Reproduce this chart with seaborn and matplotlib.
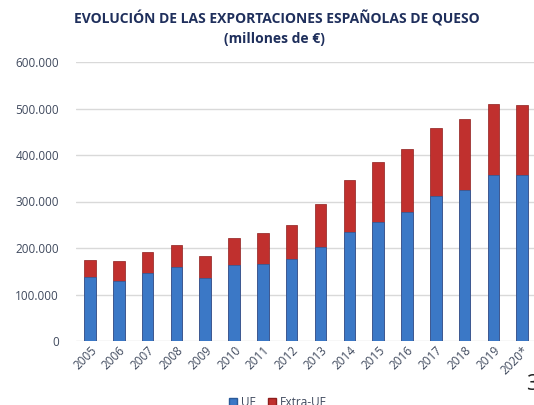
import matplotlib
matplotlib.use("Agg")
import matplotlib.pyplot as plt
import seaborn as sns
import pandas as pd
import numpy as np
from matplotlib.patches import Patch
from matplotlib.ticker import FuncFormatter

years = ["2005", "2006", "2007", "2008", "2009", "2010", "2011", "2012",
         "2013", "2014", "2015", "2016", "2017", "2018", "2019", "2020*"]
ue = [138000, 130000, 146000, 159000, 135500, 163000, 166000, 175500,
      201500, 234500, 256000, 277000, 312000, 325000, 358000, 358000]
extra_ue = [36000, 42000, 45000, 48000, 47500, 58500, 67000, 73500,
            92500, 111000, 129500, 135500, 146000, 151500, 152500, 150000]
totals = [a + b for a, b in zip(ue, extra_ue)]

df = pd.DataFrame({"year": years, "UE": ue, "Total": totals})

sns.set_theme(style="white")
plt.rcParams['font.family'] = ['Open Sans', 'DejaVu Sans']

fig = plt.figure(figsize=(5.34, 4.05), dpi=100)
ax = fig.add_axes([75.6 / 534, (405 - 341) / 405, 461 / 534, (341 - 62) / 405])

blue = "#3b78c6"
red = "#c0302e"
sns.barplot(data=df, x="year", y="Total", color=red, width=0.4, ax=ax,
            saturation=1, edgecolor="#8e1e1c", linewidth=0.5, zorder=2)
sns.barplot(data=df, x="year", y="UE", color=blue, width=0.4, ax=ax,
            saturation=1, edgecolor="#2a5a99", linewidth=0.5, zorder=3)

ax.set_xlim(-0.5, 15.5)
ax.set_ylim(0, 600000)
ax.set_yticks(np.arange(0, 600001, 100000))
ax.yaxis.set_major_formatter(FuncFormatter(lambda v, p: f"{int(v):,}".replace(",", ".")))
ax.grid(axis="y", color="#d9d9d9", linewidth=1, zorder=0)
ax.set_axisbelow(True)
for s in ax.spines.values():
    s.set_visible(False)
ax.set_xlabel("")
ax.set_ylabel("")
label_color = "#404a5e"
ax.tick_params(axis="y", length=0, pad=12, labelsize=8.5, labelcolor=label_color)
ax.tick_params(axis="x", length=0, pad=2, labelsize=8.5, labelcolor=label_color)
plt.setp(ax.get_xticklabels(), rotation=45, ha="right", rotation_mode="anchor")

fig.text(277 / 534, 1 - 18 / 405, "EVOLUCIÓN DE LAS EXPORTACIONES ESPAÑOLAS DE QUESO",
         ha="center", va="center", fontsize=10, fontweight="bold", color="#1f2f5c")
fig.text(274 / 534, 1 - 39 / 405, "(millones de €)",
         ha="center", va="center", fontsize=10, fontweight="bold", color="#1f2f5c")

handles = [Patch(facecolor=blue, edgecolor="#2a5a99", label="UE"),
           Patch(facecolor=red, edgecolor="#8e1e1c", label="Extra-UE")]
fig.legend(handles=handles, loc="center", bbox_to_anchor=(278 / 534, 1 - 403 / 405),
           ncol=2, frameon=False, fontsize=8.5, handlelength=0.7, handleheight=0.7,
           handletextpad=0.3, columnspacing=1.0, labelcolor=label_color)

fig.text(526 / 534, 1 - 384 / 405, "3", ha="left", va="center", fontsize=16, color="#222222")

fig.savefig("out.png", dpi=100)
